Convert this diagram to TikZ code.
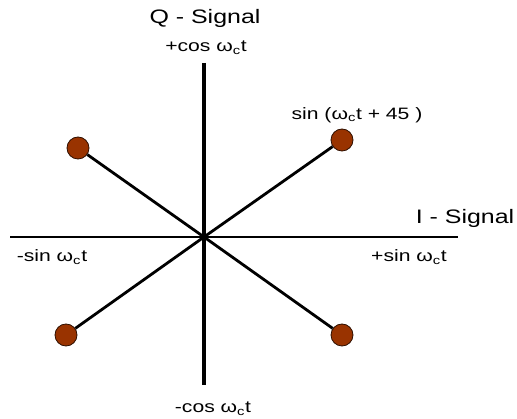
\documentclass[tikz,border=0pt]{standalone}
\usepackage{fontspec}
\setmainfont{Liberation Sans}
\definecolor{dotbrown}{HTML}{993300}
\newcommand{\wide}[1]{\scalebox{1.28}[1]{#1}}
\begin{document}
\begin{tikzpicture}[x=1pt,y=-1pt,
  title/.style={font=\fontsize{19.5}{22}\selectfont, inner sep=0pt},
  lab/.style={font=\fontsize{16.5}{19}\selectfont, inner sep=0pt},
  spoke/.style={line width=2.8pt},
  point/.style={circle, fill=dotbrown, draw=black!70!dotbrown, line width=0.8pt, minimum size=22pt, inner sep=0pt}]
\useasboundingbox (0,0) rectangle (517,419);
\coordinate (o) at (204,237);
\coordinate (qtop) at (204,63);
\coordinate (qbot) at (204,385);
\coordinate (ileft) at (10,237);
\coordinate (iright) at (458,237);
\draw[line width=4.8pt] (qtop) -- (qbot);
\draw[line width=2.8pt] (ileft) -- (iright);
\node[point] (ur) at (342,140) {};
\node[point] (ul) at (78,148) {};
\node[point] (ll) at (66,335) {};
\node[point] (lr) at (342,335) {};
\draw[spoke] (o) -- (ur);
\draw[spoke] (o) -- (ul);
\draw[spoke] (o) -- (ll);
\draw[spoke] (o) -- (lr);
\node[title] (qs) at (205,18) {\wide{Q - Signal}};
\node[title] (is) at (465,218) {\wide{I - Signal}};
\node[lab] (pc) at (206,48) {\wide{+cos ω\textsubscript{c}t}};
\node[lab] (mc) at (213,409) {\wide{-cos ω\textsubscript{c}t}};
\node[lab] (ms) at (52,257) {\wide{-sin ω\textsubscript{c}t}};
\node[lab] (ps) at (409,257) {\wide{+sin ω\textsubscript{c}t}};
\node[lab] (s45) at (357,115) {\wide{sin (ω\textsubscript{c}t + 45 )}};
\end{tikzpicture}
\end{document}
